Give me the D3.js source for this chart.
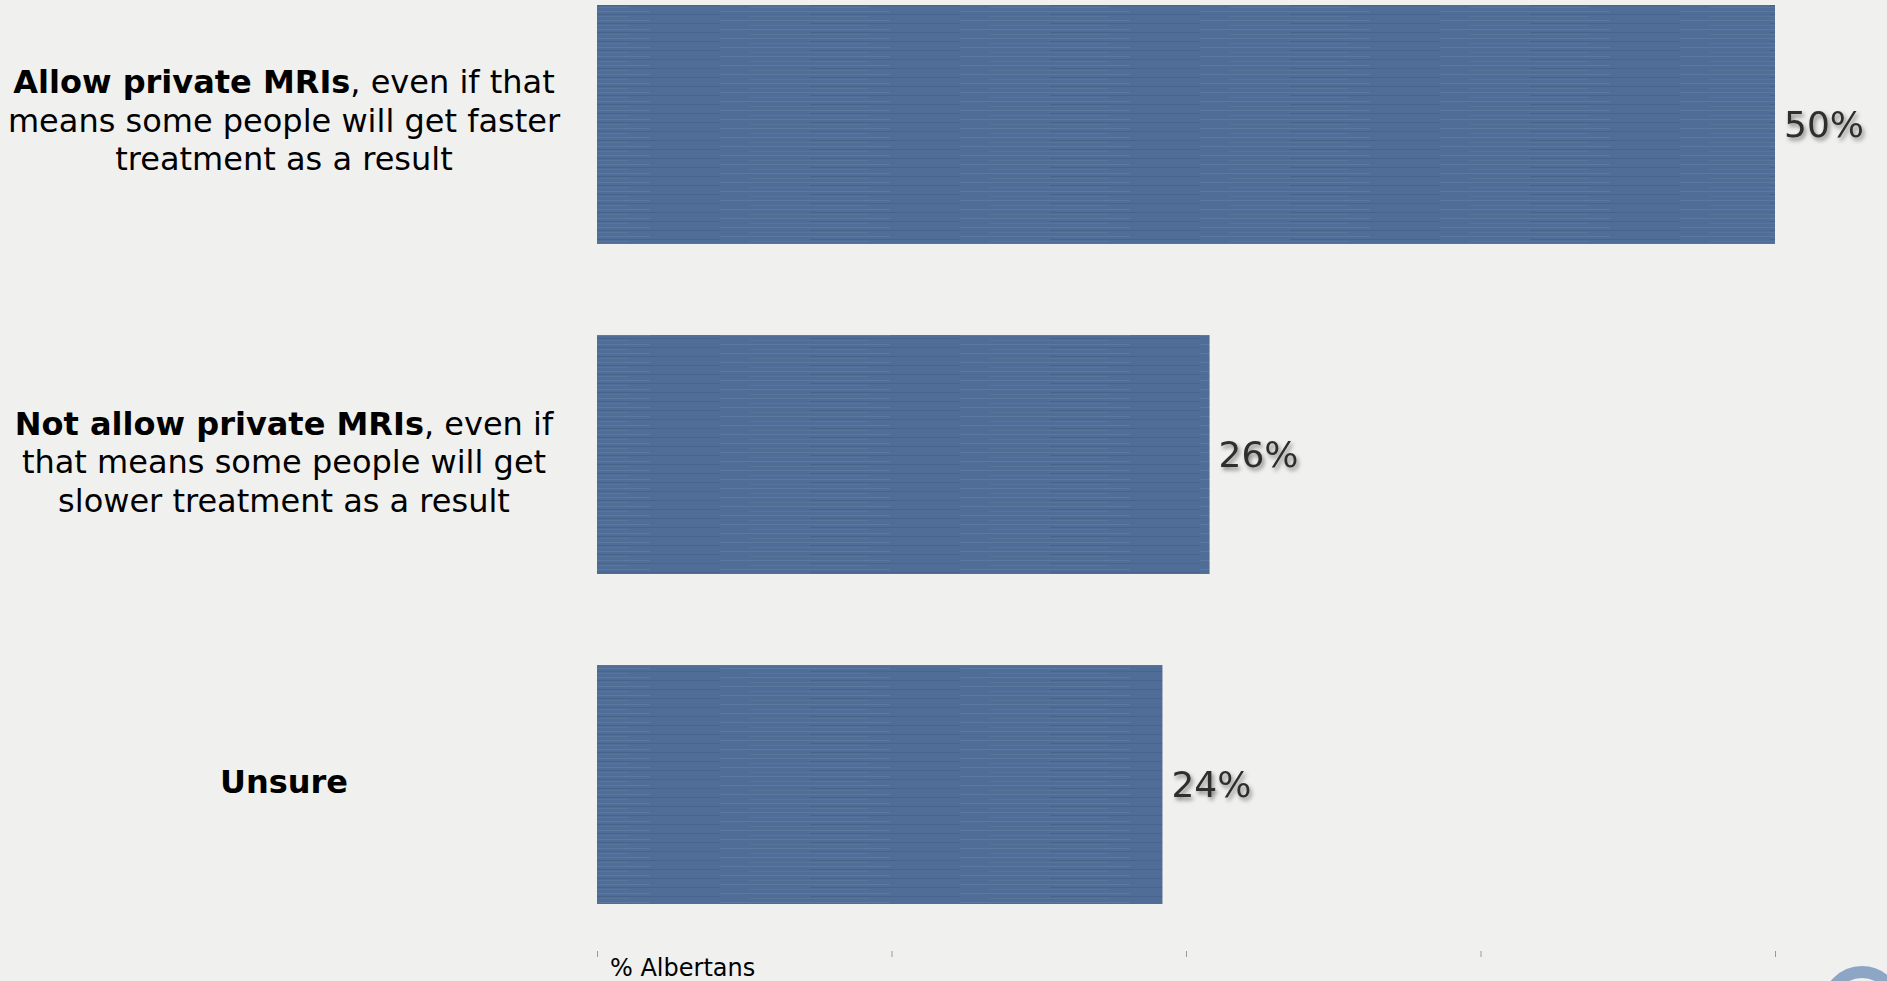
<!DOCTYPE html>
<html>
<head>
  <meta charset="utf-8">
  <title>Private MRIs - % Albertans</title>
  <script src="https://d3js.org/d3.v7.min.js"></script>
  <style>
    body, html {
      margin: 0;
      padding: 0;
      width: 100%;
      height: 100%;
      overflow: hidden;
      background-color: #f0f0ee;
    }
    svg {
      display: block;
      font-family: "DejaVu Sans", Verdana, sans-serif;
    }
    .tick line {
      stroke: #9a9a9a;
    }
  </style>
</head>
<body>
  <svg id="chart"></svg>
  <script>
    // data
    var categories = ["allow", "notAllow", "unsure"];
    var values = [50, 26, 24];
    // each label line: [bold part, regular part]
    var labelLines = [
      [["Allow private MRIs", ", even if that"], ["", "means some people will get faster"], ["", "treatment as a result"]],
      [["Not allow private MRIs", ", even if"], ["", "that means some people will get"], ["", "slower treatment as a result"]],
      [["Unsure", ""]]
    ];
    var tickValues = [0, 12.5, 25, 37.5, 50];
    var axisTitle = "% Albertans";

    var width = 1887, height = 981;
    var labelNudge = [-4, 7, -3];

    var svg = d3.select("#chart")
      .attr("width", width)
      .attr("height", height);

    var defs = svg.append("defs");
    var shadow = defs.append("filter")
      .attr("id", "shadow")
      .attr("x", "-20%").attr("y", "-20%")
      .attr("width", "150%").attr("height", "160%");
    shadow.append("feDropShadow")
      .attr("dx", 2).attr("dy", 3)
      .attr("stdDeviation", 2)
      .attr("flood-color", "#000")
      .attr("flood-opacity", 0.45);

    // faint brushed texture on the bars
    var pat = defs.append("pattern")
      .attr("id", "brush")
      .attr("patternUnits", "userSpaceOnUse")
      .attr("width", 240).attr("height", 9);
    pat.append("rect").attr("width", 240).attr("height", 9).attr("fill", "#4f6d96");
    pat.append("rect").attr("y", 2).attr("width", 170).attr("height", 1).attr("fill", "#5a78a0");
    pat.append("rect").attr("x", 90).attr("y", 5).attr("width", 150).attr("height", 1).attr("fill", "#46648c");
    pat.append("rect").attr("x", 30).attr("y", 7).attr("width", 120).attr("height", 1).attr("fill", "#587499");

    var xScale = d3.scaleLinear()
      .domain([0, 50])
      .range([597, 1775]);

    var yScale = d3.scaleBand()
      .domain(categories)
      .range([5, 904])
      .paddingInner(0.276)
      .paddingOuter(0);

    // bars
    svg.selectAll(".bar")
      .data(values)
      .enter()
      .append("rect")
      .attr("class", "bar")
      .attr("x", xScale(0))
      .attr("y", function(d, i) { return yScale(categories[i]); })
      .attr("width", function(d) { return xScale(d) - xScale(0); })
      .attr("height", yScale.bandwidth())
      .attr("fill", "url(#brush)");

    // value labels
    svg.selectAll(".value")
      .data(values)
      .enter()
      .append("text")
      .attr("class", "value")
      .attr("x", function(d) { return xScale(d) + 9; })
      .attr("y", function(d, i) { return yScale(categories[i]) + yScale.bandwidth() / 2; })
      .attr("dy", "0.36em")
      .style("font-size", "36px")
      .style("fill", "#2e2e2e")
      .attr("filter", "url(#shadow)")
      .text(function(d) { return d + "%"; });

    // category labels
    var lineHeight = 38.5;
    labelLines.forEach(function(lines, i) {
      var cy = yScale(categories[i]) + yScale.bandwidth() / 2 + labelNudge[i];
      var t = svg.append("text")
        .attr("text-anchor", "middle")
        .style("font-size", "32px")
        .style("fill", "#000");
      lines.forEach(function(line, j) {
        var ly = cy + (j - (lines.length - 1) / 2) * lineHeight;
        var row = t.append("tspan")
          .attr("x", 284)
          .attr("y", ly)
          .attr("dy", "0.36em");
        if (line[0]) row.append("tspan").style("font-weight", "bold").text(line[0]);
        if (line[1]) row.append("tspan").text(line[1]);
      });
    });

    // axis ticks only
    var axis = d3.axisBottom(xScale)
      .tickValues(tickValues)
      .tickSize(6)
      .tickFormat("");
    svg.append("g")
      .attr("transform", "translate(0, 951)")
      .call(axis)
      .call(function(g) { g.select(".domain").remove(); });

    svg.append("text")
      .attr("x", 610)
      .attr("y", 976)
      .style("font-size", "24px")
      .style("fill", "#000")
      .text(axisTitle);

    // logo corner
    svg.append("circle")
      .attr("cx", 1862)
      .attr("cy", 1006)
      .attr("r", 34)
      .attr("fill", "none")
      .attr("stroke", "#8ea6c6")
      .attr("stroke-width", 12);
  </script>
</body>
</html>
